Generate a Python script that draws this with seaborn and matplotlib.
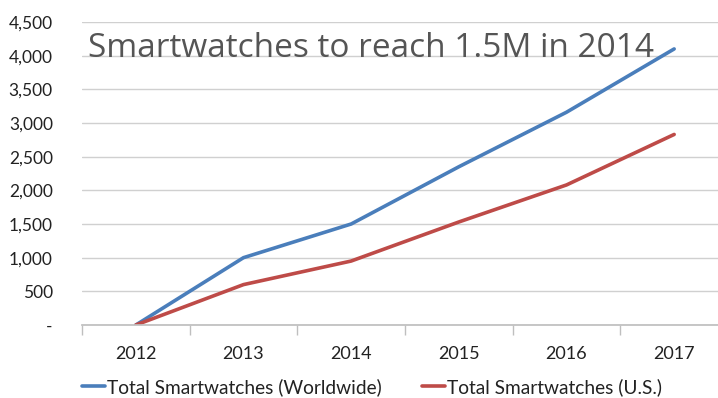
import matplotlib
matplotlib.use("Agg")
import matplotlib.pyplot as plt
import seaborn as sns
import pandas as pd
from matplotlib.ticker import FixedLocator, FuncFormatter

years = [2012, 2013, 2014, 2015, 2016, 2017]
worldwide = [0, 1000, 1500, 2350, 3160, 4100]
us = [0, 600, 950, 1530, 2080, 2830]
series_names = ["Total Smartwatches (Worldwide)", "Total Smartwatches (U.S.)"]
title = "Smartwatches to reach 1.5M in 2014"

df = pd.concat([
    pd.DataFrame({"year": years, "units": worldwide, "series": series_names[0]}),
    pd.DataFrame({"year": years, "units": us, "series": series_names[1]}),
])

sns.set_theme(style="white")
plt.rcParams["font.family"] = ["Lato", "DejaVu Sans"]

fig = plt.figure(figsize=(7.18, 3.98), dpi=100)
# the category axis runs a little past the right edge of the figure
ax = fig.add_axes([82 / 718, (398 - 325) / 398, 646 / 718, (325 - 22) / 398])

palette = {series_names[0]: "#4A7EBB", series_names[1]: "#BE4B48"}
sns.lineplot(data=df, x="year", y="units", hue="series", palette=palette,
             linewidth=2.6, ax=ax, legend=False)

ax.set_xlim(2011.5, 2017.5)
ax.set_ylim(0, 4500)
ax.set_yticks(range(0, 4501, 500))
ax.yaxis.set_major_formatter(FuncFormatter(lambda v, p: "-" if v == 0 else f"{int(v):,}"))
ax.set_xticks(years)
ax.set_xticklabels([str(y) for y in years])
ax.xaxis.set_minor_locator(FixedLocator([y + 0.5 for y in [2011] + years]))
ax.tick_params(axis="x", which="major", length=0, pad=15, labelsize=13, colors="#222222")
ax.tick_params(axis="x", which="minor", length=7, width=1, color="#bfbfbf", bottom=True)
ax.tick_params(axis="y", length=0, pad=21, labelsize=12.5, colors="#222222")
ax.grid(axis="y", color="#d0d0d0", linewidth=1)
ax.set_axisbelow(True)
for s in ["top", "right", "left"]:
    ax.spines[s].set_visible(False)
ax.spines["bottom"].set_color("#bfbfbf")
ax.set_xlabel("")
ax.set_ylabel("")

ax.text(88 / 718, (398 - 57) / 398, title, transform=fig.transFigure,
        fontsize=24, color="#555555", family=["Open Sans", "DejaVu Sans"],
        ha="left", va="baseline")

handles = [plt.Line2D([], [], color=palette[n], linewidth=2.6) for n in series_names]
fig.legend(handles, series_names, loc="center left", bbox_to_anchor=(82 / 718, 11 / 398),
           ncol=2, frameon=False, fontsize=13.8, handlelength=1.2, handletextpad=0.1,
           columnspacing=2.1, borderpad=0, borderaxespad=0, labelcolor="#222222")

fig.savefig("out.png", dpi=100)
